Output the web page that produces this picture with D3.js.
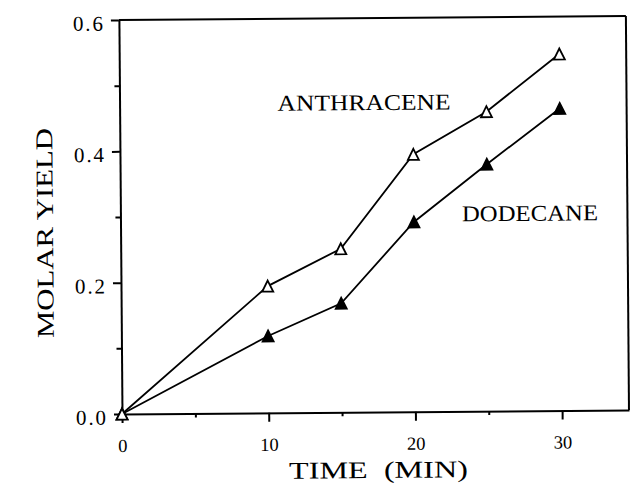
<!DOCTYPE html>
<html>
<head>
<meta charset="utf-8">
<script src="https://cdn.jsdelivr.net/npm/d3@7/dist/d3.min.js"></script>
<style>
  body { margin: 0; background: #fff; }
  svg { display: block; }
  text { font-family: "Liberation Serif", "Times New Roman", serif; fill: #000; }
</style>
</head>
<body>
<svg id="chart" width="631" height="484"></svg>
<script>
// data
var times = [0, 10, 15, 20, 25, 30];
var anthracene = [0, 0.193, 0.249, 0.392, 0.456, 0.543];
var dodecane = [0, 0.117, 0.166, 0.289, 0.376, 0.460];
var xTicks = [0, 10, 20, 30],
  xMinor = [5, 15, 25],
  yTicks = [0, 0.2, 0.4, 0.6],
  yMinor = [0.1, 0.3, 0.5];

// plot box (window.top is taken, so prefix these)
var plotL = 122, plotR = 629, plotT = 20, plotB = 414;

var x = d3.scaleLinear().domain([0, 34.56]).range([plotL, plotR]);
var y = d3.scaleLinear().domain([0, 0.6]).range([plotB, plotT]);

var svg = d3.select("#chart");

// the scanned figure is tilted a little
var g = svg.append("g")
  .attr("transform", "rotate(-0.45," + plotL + "," + plotB + ")");

// triangle centred on its bounding box
var tri = {
  draw: function(ctx, size) {
    var w = Math.sqrt(size);
    ctx.moveTo(0, -w / 2);
    ctx.lineTo(w / 2, w / 2);
    ctx.lineTo(-w / 2, w / 2);
    ctx.closePath();
  }
};

// frame top and right
g.append("line")
  .attr("x1", plotL).attr("x2", plotR)
  .attr("y1", plotT).attr("y2", plotT)
  .attr("stroke", "#000").attr("stroke-width", 2);
g.append("line")
  .attr("x1", plotR).attr("x2", plotR)
  .attr("y1", plotT).attr("y2", plotB)
  .attr("stroke", "#000").attr("stroke-width", 2);

// y axis
var yAxis = g.append("g")
  .attr("transform", "translate(" + plotL + ",0)")
  .call(d3.axisLeft(y).tickValues(yTicks).tickSize(8).tickSizeOuter(0)
    .tickFormat(d3.format(".1f")));
yAxis.selectAll("text")
  .attr("x", -16).attr("dy", null).attr("y", 10)
  .attr("font-size", 21)
  .attr("textLength", 30);
g.append("g")
  .attr("transform", "translate(" + plotL + ",0)")
  .call(d3.axisLeft(y).tickValues(yMinor).tickSize(5).tickSizeOuter(0).tickFormat(""))
  .select(".domain").remove();

// x axis
var xAxis = g.append("g")
  .attr("transform", "translate(0," + plotB + ")")
  .call(d3.axisBottom(x).tickValues(xTicks).tickSize(9).tickSizeOuter(0)
    .tickFormat(d3.format("d")));
xAxis.selectAll("text")
  .attr("dy", null).attr("y", 38)
  .attr("font-size", 18.5);
g.append("g")
  .attr("transform", "translate(0," + plotB + ")")
  .call(d3.axisBottom(x).tickValues(xMinor).tickSize(4).tickSizeOuter(0).tickFormat(""))
  .select(".domain").remove();

g.selectAll(".domain, .tick line")
  .attr("stroke", "#000")
  .attr("stroke-width", 2);

// axis titles
g.append("text")
  .attr("x", 378).attr("y", 480)
  .attr("text-anchor", "middle")
  .attr("font-size", 24)
  .attr("textLength", 179)
  .attr("lengthAdjust", "spacingAndGlyphs")
  .style("white-space", "pre")
  .text("TIME  (MIN)");

g.append("text")
  .attr("transform", "translate(54.4,232.5) rotate(-90)")
  .attr("text-anchor", "middle")
  .attr("font-size", 24)
  .attr("textLength", 210)
  .attr("lengthAdjust", "spacingAndGlyphs")
  .text("MOLAR YIELD");

// series lines
var line = d3.line()
  .x(function(d) { return x(d[0]); })
  .y(function(d) { return y(d[1]); });

var series = [
  { name: "dodecane", vals: dodecane, fill: "#000" },
  { name: "anthracene", vals: anthracene, fill: "#fff" }
];

series.forEach(function(s) {
  var pts = times.map(function(t, i) { return [t, s.vals[i]]; });
  g.append("path")
    .datum(pts)
    .attr("d", line)
    .attr("fill", "none")
    .attr("stroke", "#000")
    .attr("stroke-width", 1.8);
});

series.forEach(function(s) {
  var pts = times.map(function(t, i) { return [t, s.vals[i]]; });
  g.selectAll(".m-" + s.name)
    .data(pts)
    .enter().append("path")
      .attr("class", "m-" + s.name)
      .attr("transform", function(d) { return "translate(" + x(d[0]) + "," + y(d[1]) + ")"; })
      .attr("d", d3.symbol().type(tri).size(121))
      .attr("fill", s.fill)
      .attr("stroke", "#000")
      .attr("stroke-width", 1.8);
});

// series labels
g.append("text")
  .attr("x", 280).attr("y", 112)
  .attr("font-size", 22.5)
  .attr("textLength", 173)
  .attr("lengthAdjust", "spacingAndGlyphs")
  .text("ANTHRACENE");

g.append("text")
  .attr("x", 463.5).attr("y", 224)
  .attr("font-size", 22.5)
  .attr("textLength", 136)
  .attr("lengthAdjust", "spacingAndGlyphs")
  .text("DODECANE");
</script>
</body>
</html>
